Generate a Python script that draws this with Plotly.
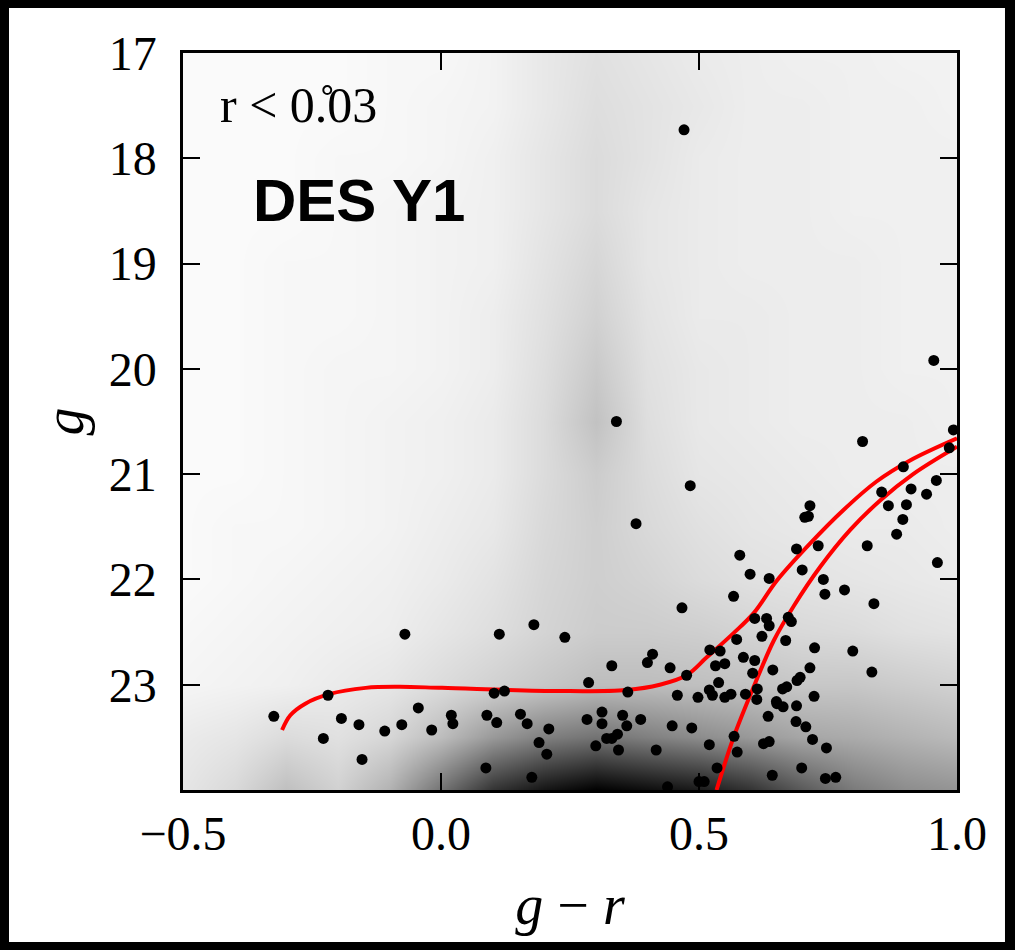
import plotly.graph_objects as go

# stars within r < 0.03 deg (g-r colour, g magnitude)
star_gr = [-0.324, -0.219, -0.193, -0.159, -0.228, -0.153, -0.109, -0.076, -0.070, -0.044,
           -0.018, 0.020, 0.023, 0.089, 0.087, 0.103, 0.123, 0.108, 0.113, 0.154,
           0.167, 0.176, 0.180, 0.190, 0.205, 0.209, 0.240, 0.283, 0.286, 0.300,
           0.312, 0.312, 0.321, 0.331, 0.331, 0.342, 0.344, 0.352, 0.360, 0.362,
           0.387, 0.400, 0.410, 0.417, 0.439, 0.444, 0.448, 0.458, 0.467, 0.476,
           0.486, 0.498, 0.500, 0.510, 0.520, 0.520, 0.521, 0.526, 0.532, 0.535,
           0.538, 0.541, 0.550, 0.550, 0.562, 0.567, 0.568, 0.573, 0.574, 0.579,
           0.586, 0.590, 0.599, 0.604, 0.608, 0.608, 0.612, 0.613, 0.622, 0.625,
           0.631, 0.634, 0.636, 0.636, 0.636, 0.642, 0.643, 0.650, 0.651, 0.662,
           0.663, 0.668, 0.670, 0.673, 0.679, 0.688, 0.689, 0.689, 0.690, 0.696,
           0.699, 0.700, 0.705, 0.712, 0.707, 0.715, 0.715, 0.720, 0.723, 0.724,
           0.731, 0.741, 0.744, 0.745, 0.747, 0.765, 0.782, 0.798, 0.817, 0.826,
           0.835, 0.839, 0.854, 0.867, 0.883, 0.895, 0.896, 0.902, 0.911, 0.941,
           0.955, 0.960, 0.962, 0.985, 0.993, 0.340, 0.378, 0.471, 0.483]
star_g = [23.30, 23.10, 23.32, 23.38, 23.51, 23.71, 23.44, 23.38, 22.52, 23.22,
          23.43, 23.29, 23.37, 23.29, 23.79, 23.08, 23.06, 23.36, 22.52, 23.28,
          23.37, 23.88, 22.43, 23.55, 23.66, 23.42, 22.55, 23.33, 22.98, 23.58,
          23.26, 23.37, 23.51, 23.51, 22.82, 23.47, 23.62, 23.29, 23.39, 23.07,
          23.33, 22.79, 22.71, 23.62, 23.97, 22.84, 23.39, 23.10, 22.27, 22.91,
          23.41, 23.12, 23.92, 23.92, 23.05, 23.57, 22.67, 23.10, 22.82, 23.79,
          22.98, 22.68, 22.80, 23.12, 23.09, 22.16, 23.49, 22.57, 23.64, 21.77,
          22.74, 23.09, 21.95, 22.89, 22.77, 22.37, 23.14, 23.04, 22.54, 23.56,
          22.37, 23.30, 21.99, 22.44, 23.54, 23.86, 22.86, 23.16, 23.18, 23.04,
          23.21, 22.58, 23.02, 22.36, 22.40, 23.35, 21.71, 23.20, 22.96, 22.93,
          23.79, 21.91, 21.41, 21.40, 23.40, 21.30, 22.84, 23.52, 23.11, 22.65,
          21.68, 22.00, 22.14, 23.89, 23.60, 23.88, 22.10, 22.68, 20.69, 21.68,
          22.88, 22.23, 21.17, 21.30, 21.57, 21.43, 20.93, 21.29, 21.14, 21.19,
          19.92, 21.06, 21.84, 20.75, 20.58, 20.50, 21.47, 17.73, 21.11]

# isochrone, upper branch (HB + AGB)
iso1_gr = [-0.308, -0.292, -0.263, -0.217, -0.146, -0.082, 0.002, 0.231, 0.360, 0.424,
           0.476, 0.515, 0.567, 0.606, 0.651, 0.715, 0.780, 0.844, 0.909, 1.0]
iso1_g = [23.43, 23.29, 23.18, 23.09, 23.03, 23.02, 23.03, 23.06, 23.05, 23.00,
          22.91, 22.74, 22.51, 22.32, 22.01, 21.66, 21.34, 21.07, 20.87, 20.66]
# isochrone, RGB branch
iso2_gr = [0.534, 0.567, 0.606, 0.645, 0.684, 0.735, 0.793, 0.851, 0.915, 1.0]
iso2_g = [24.0, 23.50, 23.02, 22.58, 22.25, 21.88, 21.53, 21.25, 21.00, 20.74]

# smoothed field density (0 = empty, 1 = densest)
dens_gr = [-0.5, -0.4, -0.3, -0.2, -0.1, 0.0, 0.1, 0.2, 0.3, 0.4, 0.5, 0.6, 0.7, 0.8, 0.9, 1.0]
dens_g = [17.0, 17.5, 18.0, 18.5, 19.0, 19.5, 20.0, 20.5, 21.0, 21.5, 22.0, 22.5, 23.0, 23.5, 24.0]
dens_z = [
    [.02, .02, .02, .02, .03, .03, .05, .09, .12, .10, .08, .07, .06, .06, .05, .05],
    [.02, .02, .02, .02, .03, .04, .05, .09, .13, .11, .09, .07, .07, .06, .06, .05],
    [.02, .02, .02, .03, .03, .04, .06, .10, .14, .11, .08, .07, .07, .06, .06, .06],
    [.02, .02, .02, .03, .04, .05, .06, .10, .14, .10, .08, .07, .07, .06, .06, .06],
    [.02, .02, .03, .03, .04, .05, .06, .11, .16, .10, .08, .07, .07, .07, .06, .06],
    [.02, .02, .03, .03, .04, .05, .07, .12, .18, .11, .08, .08, .07, .07, .06, .06],
    [.02, .02, .03, .04, .04, .05, .07, .13, .21, .12, .09, .08, .07, .07, .06, .06],
    [.02, .02, .03, .04, .05, .06, .08, .14, .24, .13, .09, .08, .07, .07, .07, .06],
    [.02, .02, .03, .04, .05, .06, .08, .14, .20, .14, .10, .09, .08, .07, .07, .07],
    [.02, .03, .03, .04, .05, .07, .09, .15, .19, .15, .12, .10, .09, .08, .08, .07],
    [.02, .03, .04, .05, .06, .08, .11, .16, .19, .17, .14, .12, .11, .10, .09, .08],
    [.03, .04, .05, .06, .07, .10, .13, .17, .20, .20, .19, .17, .15, .14, .12, .11],
    [.04, .05, .06, .08, .10, .14, .18, .22, .26, .26, .25, .24, .22, .22, .20, .18],
    [.08, .10, .14, .12, .16, .26, .40, .50, .55, .50, .45, .40, .35, .33, .30, .27],
    [.10, .15, .25, .18, .30, .55, .80, .92, 1.0, .95, .90, .80, .65, .52, .45, .42],
]

xticks = [-0.5, 0.0, 0.5, 1.0]
yticks = [17, 18, 19, 20, 21, 22, 23]

serif = "Liberation Serif"

fig = go.Figure()
fig.add_trace(go.Heatmap(x=dens_gr, y=dens_g, z=dens_z, zmin=0, zmax=1, zsmooth="best",
                         colorscale=[[0, "white"], [1, "black"]], showscale=False))
fig.add_trace(go.Scatter(x=iso1_gr, y=iso1_g, mode="lines", line=dict(color="#ff0000", width=4, shape="spline")))
fig.add_trace(go.Scatter(x=iso2_gr, y=iso2_g, mode="lines", line=dict(color="#ff0000", width=4, shape="spline")))
fig.add_trace(go.Scatter(x=star_gr, y=star_g, mode="markers", marker=dict(color="black", size=11)))

axis_common = dict(showline=True, linecolor="black", linewidth=2.5, mirror="ticks",
                   ticks="inside", ticklen=17, tickwidth=2, tickcolor="black",
                   showgrid=False, zeroline=False,
                   tickfont=dict(family=serif, size=48, color="black"))

fig.update_xaxes(range=[-0.5, 1.0], tickvals=xticks, tickformat=".1f", ticklabelstandoff=0,
                 title=dict(text="<i>g</i> − <i>r</i>", font=dict(family=serif, size=56, color="black"), standoff=26),
                 **axis_common)
fig.update_yaxes(range=[24, 17], tickvals=yticks, ticklabelstandoff=14,
                 title=dict(text="<i>g</i>", font=dict(family=serif, size=56, color="black"), standoff=8),
                 **axis_common)

# white page inside a black frame
fig.add_shape(type="rect", xref="paper", yref="paper", x0=-0.2248, x1=1.062, y0=-0.2062, y1=1.0611,
              fillcolor="white", line=dict(width=0), layer="below")

fig.add_annotation(xref="paper", yref="paper", x=0.045, y=0.93, xanchor="left", yanchor="middle",
                   text="r < 0.\u030a03", showarrow=False, font=dict(family=serif, size=50, color="black"))
fig.add_annotation(xref="paper", yref="paper", x=0.088, y=0.80, xanchor="left", yanchor="middle",
                   text="<b>DES Y1</b>", showarrow=False, font=dict(family="Liberation Sans", size=60, color="black"))

fig.update_layout(width=1015, height=950, showlegend=False,
                  paper_bgcolor="black", plot_bgcolor="white",
                  margin=dict(l=183, r=58, t=53, b=160))

fig.write_html("out.html", config={"displayModeBar": False},
               post_script="document.body.style.margin='0';document.body.style.background='black';")
